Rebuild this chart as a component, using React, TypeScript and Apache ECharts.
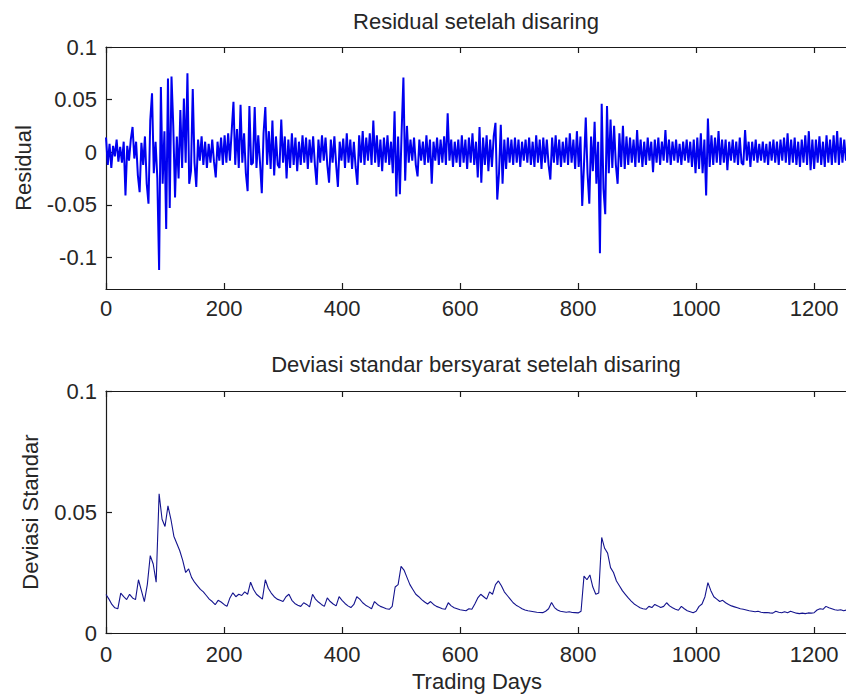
import React, { useEffect, useRef } from "react";
import * as echarts from "echarts";

// Trading-day spacing of the stored samples
const RES_STEP = 3;
const SD_STEP = 5;

const xTicks = [0, 200, 400, 600, 800, 1000, 1200];
const xTickLabels = ["0", "200", "400", "600", "800", "1000", "1200"];
const resYTicks = [-0.1, -0.05, 0, 0.05, 0.1];
const resYLabels = ["-0.1", "-0.05", "0", "0.05", "0.1"];
const sdYTicks = [0, 0.05, 0.1];
const sdYLabels = ["0", "0.05", "0.1"];

const titleTop = "Residual setelah disaring";
const titleBottom = "Deviasi standar bersyarat setelah disaring";
const yNameTop = "Residual";
const yNameBottom = "Deviasi Standar";
const xName = "Trading Days";

// Residual, one value every 3 trading days (days 0..1257)
const residual = [
  0.014, -0.012, 0.008, -0.015, 0.006, -0.004, 0.012, -0.009, 0.005, -0.01,
  0.01, -0.041, 0.006, -0.008, 0.012, 0.024, -0.006, 0.01, -0.022, -0.038,
  0.009, -0.012, 0.015, -0.03, -0.049, 0.03, 0.056, -0.02, 0.01, -0.025,
  -0.112, 0.062, -0.03, 0.02, -0.073, 0.07, -0.053, 0.072, 0.025, -0.043,
  0.015, -0.025, 0.04, -0.015, 0.051, -0.01, 0.075, -0.03, -0.018, 0.06,
  -0.01, -0.033, 0.012, -0.008, 0.015, -0.012, 0.01, -0.015, 0.008, -0.01,
  0.012, -0.009, -0.024, 0.01, -0.008, 0.014, -0.012, 0.016, -0.01, 0.018,
  -0.008, 0.02, 0.048, -0.012, 0.022, -0.015, 0.045, -0.01, 0.018, -0.02,
  -0.037, 0.044, -0.012, -0.01, 0.043, -0.015, 0.016, -0.01, -0.039, 0.018,
  0.043, -0.012, 0.02, -0.016, 0.03, -0.022, 0.015, -0.012, -0.015, 0.031,
  -0.01, 0.015, -0.025, 0.012, -0.015, 0.018, -0.012, 0.014, -0.018, 0.01,
  -0.012, 0.016, -0.01, 0.014, -0.016, 0.012, -0.01, 0.015, -0.012, -0.031,
  0.012, -0.01, 0.016, -0.008, 0.014, -0.012, -0.029, 0.012, -0.01, 0.015,
  -0.012, -0.033, 0.01, -0.008, 0.013, -0.015, 0.018, -0.01, 0.012, -0.016,
  0.01, -0.014, -0.031, 0.016, -0.01, 0.02, -0.012, 0.014, -0.008, 0.018,
  -0.012, 0.03, -0.01, 0.016, -0.014, 0.012, -0.018, 0.014, -0.01, 0.016,
  -0.012, 0.01, -0.02, 0.039, -0.042, 0.015, -0.04, 0.02, 0.071, -0.027,
  0.025, -0.01, 0.012, -0.008, 0.014, -0.012, -0.023, 0.012, -0.008, 0.01,
  -0.012, 0.016, -0.01, 0.012, -0.03, 0.01, -0.008, 0.014, -0.012, 0.012,
  -0.01, 0.015, -0.012, 0.037, -0.008, 0.012, -0.014, 0.01, -0.01, 0.012,
  -0.014, 0.016, -0.01, 0.012, -0.016, 0.014, -0.01, 0.018, -0.012, 0.01,
  -0.024, 0.024, -0.029, 0.014, -0.012, 0.016, -0.018, 0.012, -0.014, 0.015,
  0.028, -0.045, -0.02, 0.026, -0.03, 0.012, -0.016, 0.014, -0.01, 0.012,
  -0.012, 0.014, -0.01, 0.012, -0.014, 0.01, -0.008, 0.012, -0.01, 0.014,
  -0.012, 0.01, -0.014, 0.016, -0.01, 0.012, -0.016, 0.014, -0.01, 0.012,
  -0.012, -0.026, 0.014, -0.01, 0.016, -0.012, 0.012, -0.014, 0.01, -0.01,
  0.014, -0.012, 0.018, -0.01, 0.012, -0.016, 0.02, -0.014, 0.015, -0.051,
  -0.012, 0.033, -0.02, -0.049, 0.015, -0.018, 0.029, -0.03, 0.01, -0.096,
  0.046, -0.035, -0.059, 0.044, -0.02, 0.031, -0.015, 0.025, -0.012, -0.03,
  0.018, -0.014, 0.025, -0.016, 0.015, -0.012, 0.014, -0.01, 0.012, -0.014,
  0.021, -0.01, 0.012, -0.014, 0.01, -0.012, 0.014, -0.008, 0.01, -0.019,
  0.012, -0.01, 0.014, -0.012, 0.01, -0.008, 0.021, -0.01, 0.012, -0.012,
  0.01, -0.008, 0.012, -0.01, 0.008, -0.012, 0.01, -0.008, 0.012, -0.01,
  0.01, -0.014, 0.012, -0.02, 0.014, -0.016, 0.018, -0.02, 0.012, -0.041,
  0.032, -0.014, 0.016, -0.012, 0.014, -0.01, 0.02, -0.012, 0.012, -0.01,
  0.012, -0.017, 0.01, -0.008, 0.012, -0.01, 0.01, -0.012, 0.014, -0.01,
  -0.012, 0.021, -0.008, 0.01, -0.014, 0.01, -0.008, 0.012, -0.01, 0.008,
  -0.008, 0.01, -0.01, 0.008, -0.012, 0.01, -0.008, 0.012, -0.01, 0.01,
  -0.012, 0.012, -0.008, 0.014, -0.01, 0.018, -0.012, 0.012, -0.01, 0.014,
  -0.012, 0.01, -0.014, 0.012, -0.01, 0.016, -0.012, 0.02, -0.017, 0.012,
  -0.016, 0.012, -0.01, 0.015, -0.012, 0.01, -0.014, 0.016, -0.01, 0.012,
  -0.012, 0.016, -0.01, 0.02, -0.012, 0.014, -0.01, 0.012, -0.008, 0.01,
];

// Conditional standard deviation, one value every 5 trading days (days 0..1255)
const condStd = [
  0.0159, 0.014, 0.0118, 0.0104, 0.01, 0.0165, 0.015, 0.0138, 0.016, 0.0145, 0.0138, 0.022,
  0.0175, 0.013, 0.02, 0.032, 0.0285, 0.021, 0.0575, 0.047, 0.044, 0.0525, 0.047, 0.04,
  0.037, 0.034, 0.03, 0.025, 0.0265, 0.023, 0.021, 0.0195, 0.018, 0.017, 0.0155, 0.014,
  0.013, 0.0117, 0.0135, 0.0128, 0.0118, 0.011, 0.0145, 0.0166, 0.015, 0.016, 0.0155, 0.017,
  0.016, 0.021, 0.018, 0.016, 0.015, 0.014, 0.022, 0.0185, 0.0165, 0.015, 0.014, 0.0135,
  0.013, 0.015, 0.016, 0.0135, 0.0122, 0.0115, 0.011, 0.0125, 0.0118, 0.0108, 0.016, 0.014,
  0.0128, 0.0118, 0.011, 0.0145, 0.013, 0.012, 0.0112, 0.015, 0.0135, 0.0122, 0.0112, 0.0105,
  0.0118, 0.015, 0.014, 0.0125, 0.0115, 0.0108, 0.01, 0.013, 0.0118, 0.011, 0.0105, 0.01,
  0.0098, 0.011, 0.019, 0.02, 0.0275, 0.026, 0.023, 0.02, 0.018, 0.016, 0.015, 0.0138,
  0.0128, 0.012, 0.013, 0.0118, 0.011, 0.0105, 0.01, 0.0098, 0.0125, 0.0112, 0.0104, 0.01,
  0.0096, 0.0094, 0.0092, 0.01, 0.0098, 0.012, 0.0145, 0.016, 0.015, 0.014, 0.017, 0.016,
  0.02, 0.0215, 0.0195, 0.017, 0.0155, 0.014, 0.0125, 0.0115, 0.0108, 0.01, 0.0095, 0.0092,
  0.009, 0.0088, 0.0086, 0.0085, 0.0084, 0.009, 0.01, 0.0126, 0.0105, 0.0095, 0.009, 0.0088,
  0.0086, 0.0088, 0.0085, 0.0084, 0.0083, 0.009, 0.0235, 0.022, 0.024, 0.019, 0.016, 0.0165,
  0.0395, 0.035, 0.033, 0.027, 0.025, 0.0215, 0.0195, 0.0175, 0.016, 0.0145, 0.0132, 0.012,
  0.0112, 0.0104, 0.01, 0.0098, 0.011, 0.0105, 0.0118, 0.0112, 0.0105, 0.011, 0.0125, 0.0112,
  0.0104, 0.0098, 0.0094, 0.011, 0.01, 0.0092, 0.0088, 0.0084, 0.009, 0.011, 0.012, 0.015,
  0.0208, 0.0175, 0.015, 0.014, 0.013, 0.0135, 0.0125, 0.0118, 0.0112, 0.0108, 0.0104, 0.01,
  0.0098, 0.0095, 0.0092, 0.009, 0.0088, 0.009, 0.0086, 0.0084, 0.0085, 0.0083, 0.0082, 0.009,
  0.0086, 0.0084, 0.0088, 0.0084, 0.009, 0.0086, 0.0082, 0.008, 0.0082, 0.008, 0.0083, 0.0082,
  0.0084, 0.0095, 0.01, 0.0098, 0.011, 0.0104, 0.01, 0.0096, 0.0094, 0.0096, 0.0092, 0.0095,
];

const FONT = "'Liberation Sans', Arial, sans-serif";
const TXT = "#262626";
const AX = "#1a1a1a";

function labelFor(ticks: number[], labels: string[]) {
  return (v: number) => {
    const i = ticks.findIndex((t) => Math.abs(t - v) < 1e-9);
    return i >= 0 ? labels[i] : "";
  };
}

function xAxisDef(gridIndex: number, position: "top" | "bottom", showLabels: boolean, margin: number) {
  return {
    type: "value",
    gridIndex,
    position,
    min: 0,
    max: 1254,
    axisLine: { show: true, onZero: false, lineStyle: { color: AX, width: 1.2 } },
    axisTick: { show: true, inside: true, length: 6, customValues: xTicks, lineStyle: { color: AX, width: 1.2 } },
    axisLabel: {
      show: showLabels,
      customValues: xTicks,
      formatter: labelFor(xTicks, xTickLabels),
      margin,
      fontSize: 22,
      fontFamily: FONT,
      color: TXT,
    },
    splitLine: { show: false },
  };
}

function yAxisDef(gridIndex: number, min: number, max: number, ticks: number[], labels: string[]) {
  return {
    type: "value",
    gridIndex,
    min,
    max,
    axisLine: { show: true, onZero: false, lineStyle: { color: AX, width: 1.2 } },
    axisTick: { show: true, inside: true, length: 6, customValues: ticks, lineStyle: { color: AX, width: 1.2 } },
    axisLabel: {
      customValues: ticks,
      formatter: labelFor(ticks, labels),
      margin: 9,
      fontSize: 22,
      fontFamily: FONT,
      color: TXT,
    },
    splitLine: { show: false },
  };
}

export default function App() {
  const ref = useRef<HTMLDivElement>(null);
  useEffect(() => {
    if (!ref.current) return;
    const chart = echarts.init(ref.current, undefined, { renderer: "svg" });
    const textStyle = (x: number, y: number, text: string, rotation = 0) => ({
      type: "text",
      x,
      y,
      rotation,
      style: {
        text,
        fontSize: 22,
        fontFamily: FONT,
        fill: TXT,
        align: "center",
        verticalAlign: "middle",
      },
    });
    chart.setOption({
      animation: false,
      backgroundColor: "#ffffff",
      grid: [
        { left: 106, top: 47, width: 740, height: 242 },
        { left: 106, top: 391, width: 740, height: 242 },
      ],
      xAxis: [
        xAxisDef(0, "bottom", true, 8),
        xAxisDef(0, "top", false, 8),
        xAxisDef(1, "bottom", true, 10),
        xAxisDef(1, "top", false, 8),
      ],
      yAxis: [
        yAxisDef(0, -0.13, 0.1, resYTicks, resYLabels),
        yAxisDef(1, 0, 0.1, sdYTicks, sdYLabels),
      ],
      series: [
        {
          type: "line",
          xAxisIndex: 0,
          yAxisIndex: 0,
          showSymbol: false,
          symbol: "none",
          lineStyle: { color: "#0000f0", width: 2 },
          data: residual.map((v, i) => [i * RES_STEP, v]),
        },
        {
          type: "line",
          xAxisIndex: 2,
          yAxisIndex: 1,
          showSymbol: false,
          symbol: "none",
          lineStyle: { color: "#14148e", width: 1.1 },
          data: condStd.map((v, i) => [i * SD_STEP, v]),
        },
      ],
      graphic: [
        textStyle(476, 21, titleTop),
        textStyle(476, 364, titleBottom),
        textStyle(23, 168, yNameTop, Math.PI / 2),
        textStyle(30, 512, yNameBottom, Math.PI / 2),
        textStyle(477, 681, xName),
      ],
    });
    return () => chart.dispose();
  }, []);
  return (
    <div
      ref={ref}
      style={{ position: "fixed", left: 0, top: 0, width: 846, height: 696, background: "#fff" }}
    />
  );
}
